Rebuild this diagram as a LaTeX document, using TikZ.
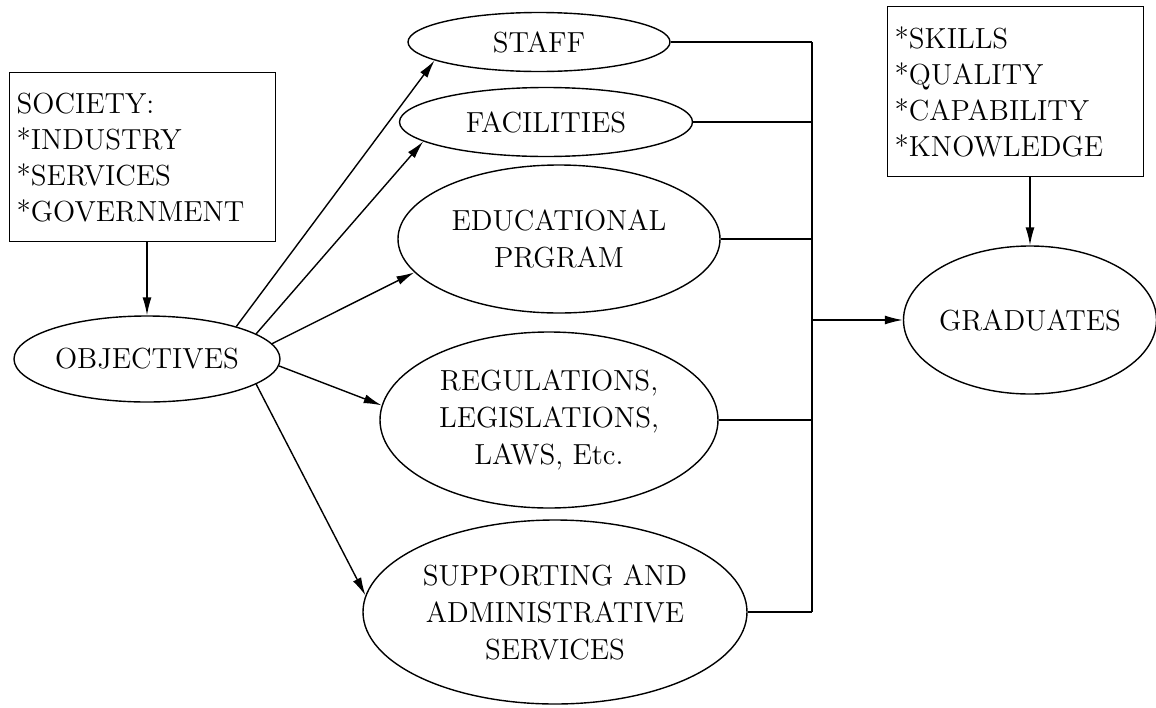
\documentclass[tikz,border=0pt]{standalone}
\usepackage{amsmath}
\usetikzlibrary{shapes.geometric,arrows.meta}

\begin{document}
\begin{tikzpicture}[x=0.5pt,y=-0.5pt,line width=0.7pt,
    font=\fontsize{14.5}{18}\selectfont,
    >={Latex[length=9pt,width=4.5pt]},
    oval/.style={ellipse,draw,inner sep=-2pt,align=center,
        font=\fontsize{14.5}{18.5}\selectfont},
    listbox/.style={draw,rectangle,align=left,anchor=north west,inner xsep=3.5pt}]
            \useasboundingbox (0,0) rectangle (1156,707);
            \node[listbox,text width=126pt,minimum height=84.5pt] (society) at (9,72)
                {SOCIETY:\\ *INDUSTRY\\ *SERVICES\\ *GOVERNMENT};
            \node[listbox,text width=121pt,minimum height=85pt] (skills) at (887,6)
                {*SKILLS\\ *QUALITY\\ *CAPABILITY\\ *KNOWLEDGE};
            \node[oval,minimum width=133pt,minimum height=43pt] (obj) at (147,359) {OBJECTIVES};
            \node[oval,minimum width=131pt,minimum height=29.5pt] (staff) at (539,42) {STAFF};
            \node[oval,minimum width=146.5pt,minimum height=34.5pt] (fac) at (546,122) {FACILITIES};
            \node[oval,minimum width=161pt,minimum height=74pt] (edu) at (559,239) {EDUCATIONAL\\ PRGRAM};
            \node[oval,minimum width=169pt,minimum height=88pt] (reg) at (549,420) {REGULATIONS,\\ LEGISLATIONS,\\ LAWS, Etc.};
            \node[oval,minimum width=192pt,minimum height=92pt] (sup) at (555,612) {SUPPORTING AND\\ ADMINISTRATIVE\\ SERVICES};
            \node[oval,minimum width=126.5pt,minimum height=74pt] (grad) at (1030,320) {GRADUATES};
            \coordinate (busmid) at (812,320);
            \draw[->] (society.south -| obj) to (obj.north);
            \draw[->] (skills.south -| grad) to (grad.north);
            \draw[->] (obj.20) to (staff.190);
            \draw[->] (obj.13) to (fac.189);
            \draw[->] (obj.7) to (edu.193);
            \draw[->] (obj.-3) to (reg.175);
            \draw[->] (obj.-13) to (sup.175);
            \draw (staff.east) -- (staff.east -| busmid);
            \draw (fac.east) -- (fac.east -| busmid);
            \draw (edu.east) -- (edu.east -| busmid);
            \draw (reg.east) -- (reg.east -| busmid);
            \draw (sup.east) -- (sup.east -| busmid);
            \draw (staff.east -| busmid) -- (sup.east -| busmid);
            \draw[->] (busmid) to (grad.west);
\end{tikzpicture}
\end{document}
